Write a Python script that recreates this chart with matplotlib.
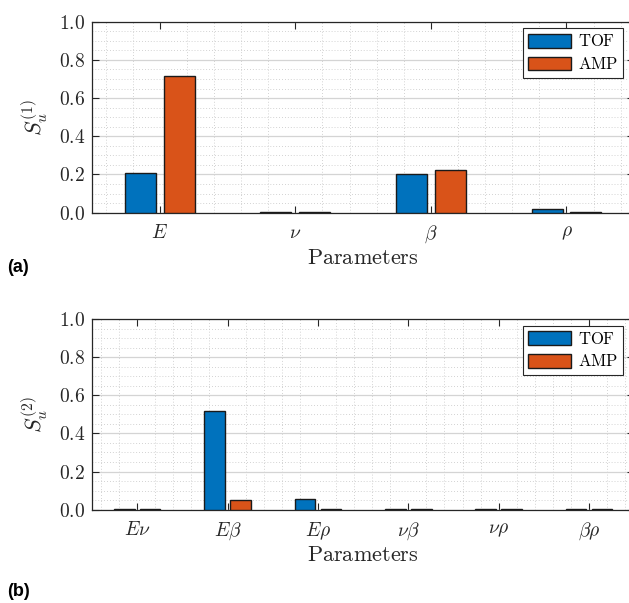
import numpy as np
import matplotlib
matplotlib.use('Agg')
import matplotlib.pyplot as plt
from matplotlib.ticker import MultipleLocator

plt.rcParams['mathtext.fontset'] = 'cm'
plt.rcParams['font.family'] = 'serif'
plt.rcParams['font.serif'] = ['DejaVu Serif']

# first order indices
params_1 = [r'$E$', r'$\nu$', r'$\beta$', r'$\rho$']
tof_1 = [0.206, 0.001, 0.201, 0.018]
amp_1 = [0.714, 0.005, 0.225, 0.002]

# second order indices
params_2 = [r'$E\nu$', r'$E\beta$', r'$E\rho$', r'$\nu\beta$', r'$\nu\rho$', r'$\beta\rho$']
tof_2 = [0.002, 0.518, 0.054, 0.002, 0.002, 0.002]
amp_2 = [0.002, 0.051, 0.002, 0.002, 0.002, 0.002]

yticks = [0.0, 0.2, 0.4, 0.6, 0.8, 1.0]

c_tof = '#0072BD'
c_amp = '#D95319'
w = 0.2286
off = 0.1429


def draw(ax, names, tof, amp, ylab):
    x = np.arange(1, len(names) + 1)
    ax.bar(x - off, tof, w, color=c_tof, edgecolor='#1a1a1a', linewidth=1.0,
           label=r'$\mathrm{TOF}$', zorder=3)
    ax.bar(x + off, amp, w, color=c_amp, edgecolor='#1a1a1a', linewidth=1.0,
           label=r'$\mathrm{AMP}$', zorder=3)
    ax.set_xlim(0.5, len(names) + 0.5)
    ax.set_ylim(0, 1)
    ax.set_xticks(x, names)
    ax.set_yticks(yticks, [r'$%.1f$' % v for v in yticks])
    ax.xaxis.set_minor_locator(MultipleLocator(0.2))
    ax.yaxis.set_minor_locator(MultipleLocator(0.05))
    ax.tick_params(which='major', direction='in', top=True, right=True,
                   length=5, width=0.8, labelsize=14, color='#262626',
                   labelcolor='#262626')
    ax.tick_params(axis='x', which='major', pad=8)
    ax.tick_params(axis='y', which='major', pad=5)
    ax.tick_params(which='minor', length=0)
    ax.grid(axis='y', which='major', color='#d4d4d4', linewidth=0.9, zorder=0)
    ax.grid(which='minor', color='#c4c4c4', linestyle=(0, (1, 2.5)),
            linewidth=0.6, zorder=0)
    ax.set_axisbelow(True)
    for s in ax.spines.values():
        s.set_color('#262626')
        s.set_linewidth(0.9)
    ax.set_xlabel(r'$\mathrm{Parameters}$', fontsize=16, color='#262626',
                  labelpad=1)
    ax.set_ylabel(ylab, fontsize=16, color='#262626', labelpad=6)
    leg = ax.legend(loc='upper right', fontsize=12, fancybox=False,
                    framealpha=1, edgecolor='#262626', borderpad=0.3,
                    handlelength=2.6, handleheight=0.9, handletextpad=0.4,
                    borderaxespad=0.4, labelspacing=0.35,
                    bbox_to_anchor=(0.992, 1.0))
    leg.get_frame().set_linewidth(0.8)


fig = plt.figure(figsize=(6.29, 6.03), dpi=100)
ax1 = fig.add_axes([0.1463, 0.6473, 0.862, 0.3167])
ax2 = fig.add_axes([0.1463, 0.1547, 0.862, 0.3163])

draw(ax1, params_1, tof_1, amp_1, r'$S_u^{(1)}$')
draw(ax2, params_2, tof_2, amp_2, r'$S_u^{(2)}$')

fig.text(0.012, 1 - 267 / 603, '(a)', fontsize=13, fontweight='bold',
         family='Liberation Sans', va='center')
fig.text(0.012, 1 - 591 / 603, '(b)', fontsize=13, fontweight='bold',
         family='Liberation Sans', va='center')

fig.savefig('out.png', dpi=100)
